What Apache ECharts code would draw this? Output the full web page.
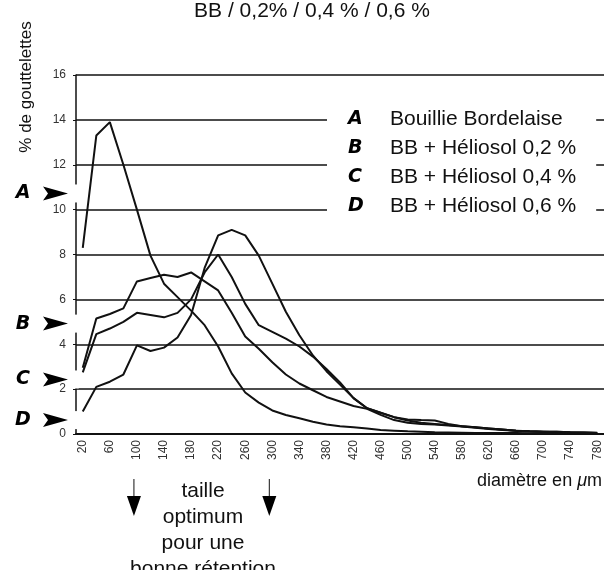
<!DOCTYPE html>
<html><head><meta charset="utf-8">
<script src="https://cdn.jsdelivr.net/npm/echarts@6/dist/echarts.min.js"></script>
<style>html,body{margin:0;padding:0;background:#fff}#c{width:604px;height:570px}</style>
</head><body><div id="c"></div>
<script>
const categories = ['20','40','60','80','100','120','140','160','180','200','220','240','260','280','300','320','340','360','380','400','420','440','460','480','500','520','540','560','580','600','620','640','660','680','700','720','740','760','780'];
const seriesA = [8.3,13.3,13.9,12.0,10.0,7.95,6.7,6.1,5.5,4.85,3.9,2.7,1.85,1.4,1.05,0.85,0.7,0.55,0.42,0.35,0.3,0.25,0.18,0.15,0.12,0.1,0.08,0.07,0.06,0.05,0.05,0.04,0.04,0.03,0.03,0.03,0.02,0.02,0.02];
const seriesB = [2.95,5.15,5.35,5.6,6.8,6.95,7.1,7.0,7.2,6.8,6.4,5.4,4.35,3.8,3.2,2.65,2.25,1.95,1.65,1.45,1.25,1.12,0.85,0.62,0.5,0.45,0.42,0.38,0.33,0.28,0.22,0.18,0.15,0.12,0.1,0.1,0.08,0.07,0.06];
const seriesC = [2.75,4.45,4.7,5.0,5.4,5.3,5.2,5.4,6.0,7.2,8.0,7.0,5.8,4.85,4.55,4.25,3.9,3.45,2.9,2.3,1.6,1.15,0.95,0.75,0.6,0.5,0.45,0.4,0.35,0.3,0.25,0.2,0.15,0.12,0.1,0.08,0.07,0.06,0.05];
const seriesD = [1.0,2.1,2.33,2.65,3.95,3.7,3.85,4.3,5.3,7.4,8.85,9.1,8.85,7.95,6.7,5.45,4.4,3.5,2.8,2.2,1.6,1.15,0.95,0.75,0.65,0.62,0.6,0.45,0.35,0.3,0.25,0.2,0.15,0.12,0.1,0.1,0.08,0.07,0.05];
const seriesNames = ['A','B','C','D'];
const seriesLabels = ['Bouillie Bordelaise','BB + Héliosol 0,2 %','BB + Héliosol 0,4 %','BB + Héliosol 0,6 %'];
const markerValues = [10.72, 4.92, 2.43, 0.62];
const optimumBounds = ['100','300'];
const titleText = 'BB / 0,2% / 0,4 % / 0,6 %';
const yTitle = '% de gouttelettes';
const noteLines = ['taille','optimum','pour une','bonne rétention'];

const FONT = '"Liberation Sans", Arial, sans-serif';
const HEAVY = '"DejaVu Sans", "Liberation Sans", sans-serif';
const chart = echarts.init(document.getElementById('c'), null, {renderer:'canvas'});
const allData = [seriesA, seriesB, seriesC, seriesD];
const labelMap = {};
seriesNames.forEach((n,i)=>labelMap[n]=seriesLabels[i]);

chart.setOption({
  animation:false,
  backgroundColor:'#fff',
  textStyle:{fontFamily:FONT},
  title:{text:titleText,left:307,textAlign:'center',top:-4,textStyle:{fontFamily:FONT,fontSize:21,fontWeight:'normal',color:'#111'}},
  grid:{left:76,right:-4,top:75,bottom:136,containLabel:false},
  legend:{
    orient:'vertical',left:327,top:97,icon:'none',itemWidth:0,itemHeight:0,itemGap:8,
    backgroundColor:'#fff',padding:[12,20,12,16],selectedMode:false,
    data:seriesNames,
    formatter:n=>'{l|'+n+'}{t|'+labelMap[n]+'}',
    textStyle:{rich:{
      l:{fontFamily:HEAVY,fontSize:19,fontWeight:'bold',fontStyle:'italic',color:'#000',width:42,height:21},
      t:{fontFamily:FONT,fontSize:21,color:'#111',height:21}
    }}
  },
  xAxis:{
    type:'category',data:categories,boundaryGap:true,
    axisLine:{lineStyle:{color:'#111',width:2}},
    axisTick:{alignWithLabel:true,interval:0,length:3,lineStyle:{color:'#111'}},
    axisLabel:{interval:1,rotate:90,fontSize:12,color:'#333',margin:6,fontFamily:FONT},
    splitLine:{show:false}
  },
  yAxis:{
    type:'value',min:0,max:16,interval:2,
    axisLine:{show:true,lineStyle:{color:'#111',width:1.5}},
    axisTick:{show:true,length:3,lineStyle:{color:'#111'}},
    axisLabel:{fontSize:12,color:'#333',margin:10,fontFamily:FONT},
    splitLine:{show:true,lineStyle:{color:'#111',width:1.6}}
  },
  series: seriesNames.map((n,i)=>({
    name:n,type:'line',data:allData[i],symbol:'none',smooth:false,
    lineStyle:{color:'#111',width:2},itemStyle:{color:'#111'},z:3
  }))
});

function build(){
  const g = [];
  const axX = chart.convertToPixel({xAxisIndex:0}, categories[0]) - 7;
  markerValues.forEach((v,i)=>{
    const y = chart.convertToPixel({yAxisIndex:0}, v);
    g.push({type:'rect',shape:{x:axX-3,y:y-9,width:6,height:18},style:{fill:'#fff'},z:50});
    g.push({type:'text',x:23,y:y,style:{text:seriesNames[i],font:'italic bold 19px '+HEAVY,fill:'#000',align:'center',verticalAlign:'middle'},z:60});
    g.push({type:'polygon',shape:{points:[[43,y-7],[68,y],[43,y+7],[48,y]]},style:{fill:'#000'},z:60});
  });
  g.push({type:'text',x:26,y:87,rotation:Math.PI/2,style:{text:yTitle,font:'17px '+FONT,fill:'#111',align:'center',verticalAlign:'middle'},z:60});
  g.push({type:'text',x:602,y:481,style:{rich:{a:{fontSize:18,fontFamily:FONT,fill:'#111'},i:{fontSize:18,fontFamily:FONT,fontStyle:'italic',fill:'#111'}},text:'{a|diamètre en }{i|μ}{a|m}',align:'right',verticalAlign:'middle'},z:60});
  noteLines.forEach((t,i)=>{
    g.push({type:'text',x:203,y:491+i*26,style:{text:t,font:'21px '+FONT,fill:'#111',align:'center',verticalAlign:'middle'},z:60});
  });
  optimumBounds.forEach(c=>{
    const x = chart.convertToPixel({xAxisIndex:0}, c) - 3;
    g.push({type:'line',shape:{x1:x,y1:479,x2:x,y2:497},style:{stroke:'#111',lineWidth:1},z:60});
    g.push({type:'polygon',shape:{points:[[x-7,496],[x+7,496],[x,516]]},style:{fill:'#000'},z:60});
  });
  chart.setOption({graphic:g});
}
build();
</script>
</body></html>
